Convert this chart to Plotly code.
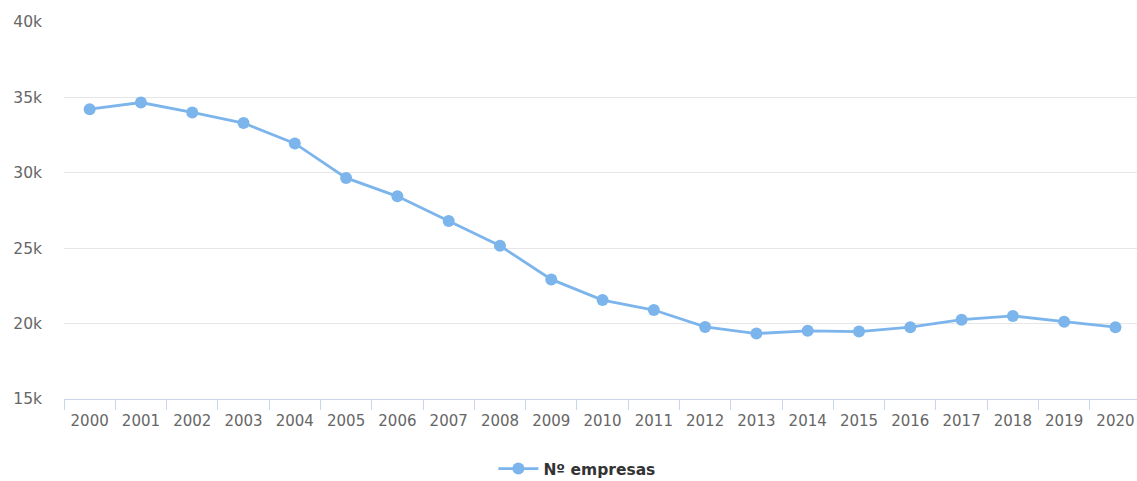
import plotly.graph_objects as go

# Number of companies per year
years = [str(y) for y in range(2000, 2021)]
empresas = [34220, 34660, 34000, 33300, 31950, 29660, 28440, 26810, 25160,
            22930, 21560, 20900, 19780, 19340, 19520, 19470, 19760, 20260,
            20510, 20130, 19760]
series_name = "Nº empresas"

y_ticks = [15000, 20000, 25000, 30000, 35000, 40000]
y_tick_labels = ["15k", "20k", "25k", "30k", "35k", "40k"]

fig = go.Figure()
fig.add_trace(go.Scatter(
    x=years,
    y=empresas,
    mode="lines+markers",
    name=series_name,
    line=dict(color="#7cb5ec", width=2.8),
    marker=dict(color="#7cb5ec", size=12),
))

fig.update_layout(
    width=1137,
    height=481,
    margin=dict(l=64, r=0, t=22, b=82, autoexpand=False),
    paper_bgcolor="white",
    plot_bgcolor="white",
    font=dict(family="DejaVu Sans", size=14, color="#666666"),
    showlegend=True,
    legend=dict(
        orientation="h",
        x=0.478, xanchor="center",
        yref="container",
        y=0.025, yanchor="middle",
        font=dict(family="DejaVu Sans", size=15.5, color="#333333", weight="bold"),
        itemwidth=40,
    ),
    xaxis=dict(
        type="category",
        range=[-0.5, 20.42],
        showgrid=False,
        showline=True,
        linecolor="#ccd6eb",
        linewidth=1,
        ticks="outside",
        tickson="boundaries",
        ticklen=10,
        tickcolor="#ccd6eb",
        ticklabelstandoff=8,
        tickfont=dict(family="DejaVu Sans", size=15, color="#666666"),
        zeroline=False,
        fixedrange=True,
    ),
    yaxis=dict(
        range=[15000, 40000],
        tickvals=y_ticks,
        ticktext=y_tick_labels,
        showgrid=True,
        gridcolor="#e6e6e6",
        gridwidth=1,
        zeroline=False,
        showline=False,
        ticks="",
        ticklabelstandoff=21,
        tickfont=dict(family="DejaVu Sans", size=15.5, color="#666666"),
        fixedrange=True,
    ),
)

fig.write_html("out.html")
